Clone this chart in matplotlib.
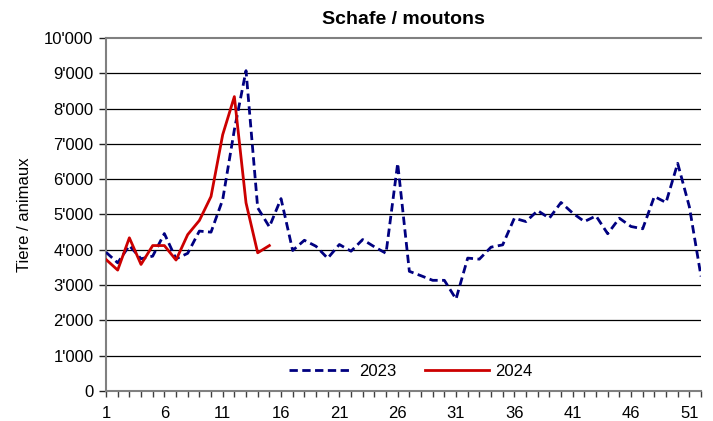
import matplotlib
matplotlib.use("Agg")
import matplotlib.pyplot as plt
from matplotlib.ticker import FuncFormatter

weeks_2023 = list(range(1, 53))
values_2023 = [3930, 3630, 4120, 3745, 3820, 4460, 3745, 3900, 4530, 4500,
               5420, 7400, 9075, 5190, 4650, 5450, 3980, 4270, 4100, 3760,
               4150, 3960, 4290, 4085, 3900, 6450, 3390, 3265, 3135, 3135,
               2605, 3765, 3735, 4075, 4140, 4895, 4800, 5110, 4895, 5340,
               5040, 4800, 4960, 4455, 4895, 4660, 4595, 5510, 5340, 6450,
               5220, 3245]
weeks_2024 = list(range(1, 16))
values_2024 = [3725, 3425, 4340, 3585, 4120, 4120, 3710, 4430, 4830, 5510,
               7260, 8340, 5330, 3915, 4120]
xtick_labels = [1, 6, 11, 16, 21, 26, 31, 36, 41, 46, 51]
title = "Schafe / moutons"
ylabel = "Tiere / animaux"

plt.rcParams['font.family'] = ['Liberation Sans', 'DejaVu Sans']

fig = plt.figure(figsize=(7.13, 4.21), dpi=100)
ax = fig.add_axes([0.1487, 0.0713, 0.8345, 0.8384])

ax.plot(weeks_2023, values_2023, color='#000080', lw=2, linestyle=(0, (3, 1.6)), label='2023', zorder=3)
ax.plot(weeks_2024, values_2024, color='#CC0000', lw=2, label='2024', zorder=4)

ax.set_xlim(1, 52)
ax.set_ylim(0, 10000)
ax.set_yticks(range(0, 10001, 1000))
ax.yaxis.set_major_formatter(FuncFormatter(lambda v, p: f"{int(v):,}".replace(",", "'")))
ax.set_xticks(xtick_labels)
ax.set_xticks(weeks_2023, minor=True)
ax.tick_params(axis='x', which='both', length=4, width=1, color='#404040', direction='out', labelsize=12, pad=7)
ax.tick_params(axis='y', length=5, width=1, color='#202020', direction='out', labelsize=12, pad=4)

for v in range(1000, 10000, 1000):
    ax.axhline(v, color='#000000', lw=0.9, zorder=1)

for s in ['left', 'bottom', 'top']:
    ax.spines[s].set_color('#808080')
    ax.spines[s].set_linewidth(1.5)
ax.spines['right'].set_visible(False)

ax.set_title(title, fontsize=14, fontweight='bold', pad=10)
ax.set_ylabel(ylabel, fontsize=12, labelpad=9)

ax.legend(loc='center', bbox_to_anchor=(0.512, 0.055), ncol=2, frameon=False,
          fontsize=12, handlelength=3.8, columnspacing=1.75, handletextpad=0.4)

fig.savefig('out.png', dpi=100)
